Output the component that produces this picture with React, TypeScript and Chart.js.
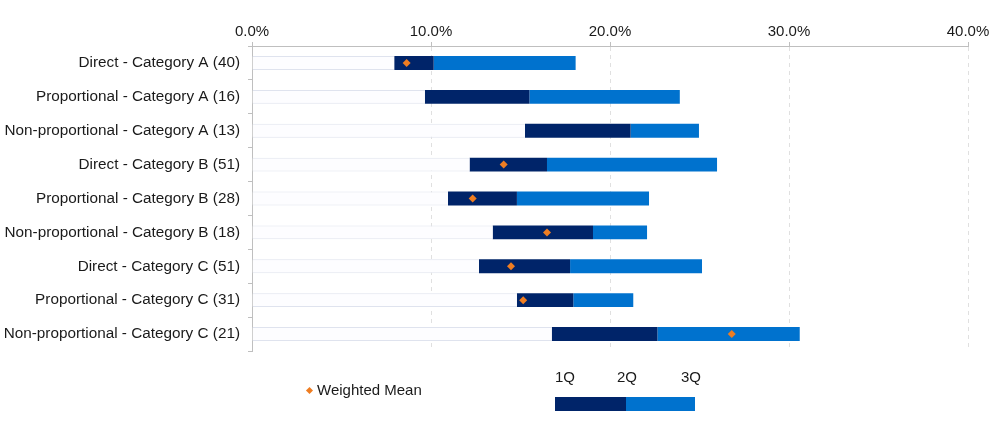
import React, { useEffect, useRef } from "react";
import { Chart, registerables } from "chart.js";

Chart.register(...registerables);

const categories = [
  "Direct - Category A (40)",
  "Proportional - Category A (16)",
  "Non-proportional - Category A (13)",
  "Direct - Category B (51)",
  "Proportional - Category B (28)",
  "Non-proportional - Category B (18)",
  "Direct - Category C (51)",
  "Proportional - Category C (31)",
  "Non-proportional - Category C (21)",
];

const q1Values = [7.95, 9.66, 15.25, 12.16, 10.95, 13.45, 12.68, 14.8, 16.75];
const q2Values = [10.15, 15.5, 21.15, 16.48, 14.8, 19.05, 17.77, 17.95, 22.65];
const q3Values = [18.08, 23.9, 24.97, 25.98, 22.18, 22.07, 25.14, 21.3, 30.6];
const weightedMean = [8.64, null, null, 14.06, 12.33, 16.48, 14.47, 15.15, 26.8];

const xTicks = [0, 10, 20, 30, 40];

const NAVY = "#002469";
const BLUE = "#0072CE";
const ORANGE = "#EE7D22";
const FONT = "'Liberation Sans', Arial, sans-serif";

export default function App() {
  const canvasRef = useRef<HTMLCanvasElement | null>(null);

  useEffect(() => {
    const ctx = canvasRef.current;
    if (!ctx) return;
    const chart = new Chart(ctx, {
      type: "bar",
      data: {
        labels: categories,
        datasets: [
          {
            type: "line",
            label: "Weighted Mean",
            data: weightedMean as any,
            showLine: false,
            pointStyle: "rectRot",
            pointRadius: 4,
            pointBackgroundColor: ORANGE,
            pointBorderColor: ORANGE,
            pointBorderWidth: 0,
            order: -1,
            indexAxis: "y",
          } as any,
          {
            label: "base",
            data: q1Values,
            backgroundColor: "#fdfdff",
            borderColor: "#dfe3ee",
            borderWidth: { top: 1, bottom: 1, left: 0, right: 0 },
            borderSkipped: false,
            order: 1,
          },
          {
            label: "1Q-2Q",
            data: q2Values.map((v, i) => v - q1Values[i]),
            backgroundColor: NAVY,
            borderWidth: 0,
            order: 1,
          },
          {
            label: "2Q-3Q",
            data: q3Values.map((v, i) => v - q2Values[i]),
            backgroundColor: BLUE,
            borderWidth: 0,
            order: 1,
          },
        ],
      },
      options: {
        indexAxis: "y",
        responsive: false,
        animation: false,
        layout: { padding: { left: 0, right: 32, top: 0, bottom: 87 } },
        plugins: {
          legend: { display: false },
          tooltip: { enabled: false },
        },
        datasets: {
          bar: { categoryPercentage: 1, barPercentage: 0.41 },
        },
        scales: {
          x: {
            position: "top",
            stacked: true,
            min: 0,
            max: 40,
            afterBuildTicks: (scale: any) => {
              scale.ticks = xTicks.map((v) => ({ value: v }));
            },
            afterFit: (scale: any) => {
              scale.height = 46;
            },
            ticks: {
              callback: (v: any) => Number(v).toFixed(1) + "%",
              color: "#1a1a1a",
              font: { family: FONT, size: 15 },
              padding: 1,
              maxRotation: 0,
            },
            grid: {
              color: "#e0e0e0",
              borderDash: [4, 4],
              tickBorderDash: [],
              tickColor: "#bfbfbf",
              tickLength: 4,
              lineWidth: 1,
            } as any,
            border: { display: true, color: "#bfbfbf", dash: [4, 4] } as any,
          },
          y: {
            stacked: true,
            afterFit: (scale: any) => {
              scale.width = 252;
            },
            ticks: {
              color: "#1a1a1a",
              font: { family: FONT, size: 15.3 },
              padding: 8,
            },
            grid: {
              display: true,
              drawOnChartArea: false,
              drawTicks: true,
              tickLength: 4,
              color: "#bfbfbf",
              offset: true,
            },
            border: { display: true, color: "#bfbfbf" },
          },
        },
      } as any,
      plugins: [
        {
          id: "topBorder",
          afterDraw: (c: any) => {
            const { ctx: g, chartArea } = c;
            g.save();
            g.strokeStyle = "#bfbfbf";
            g.lineWidth = 1;
            g.beginPath();
            g.moveTo(chartArea.left, Math.round(chartArea.top) + 0.5);
            g.lineTo(chartArea.right, Math.round(chartArea.top) + 0.5);
            g.stroke();
            g.restore();
          },
        },
      ],
    });
    return () => chart.destroy();
  }, []);

  const textStyle: React.CSSProperties = {
    position: "absolute",
    fontFamily: FONT,
    fontSize: 15,
    lineHeight: "18px",
    color: "#1a1a1a",
    whiteSpace: "nowrap",
  };

  return (
    <div style={{ position: "absolute", left: 0, top: 0, width: 1000, height: 438, background: "#fff" }}>
      <canvas ref={canvasRef} width={1000} height={438} style={{ display: "block" }} />
      <div
        style={{
          position: "absolute",
          left: 306.5,
          top: 388,
          width: 5,
          height: 5,
          background: ORANGE,
          transform: "rotate(45deg)",
        }}
      />
      <div style={{ ...textStyle, left: 317, top: 381 }}>Weighted Mean</div>
      <div style={{ ...textStyle, left: 555, top: 368 }}>1Q</div>
      <div style={{ ...textStyle, left: 617, top: 368 }}>2Q</div>
      <div style={{ ...textStyle, left: 681, top: 368 }}>3Q</div>
      <div style={{ position: "absolute", left: 555, top: 397, width: 71, height: 14, background: NAVY }} />
      <div style={{ position: "absolute", left: 626, top: 397, width: 69, height: 14, background: BLUE }} />
    </div>
  );
}
